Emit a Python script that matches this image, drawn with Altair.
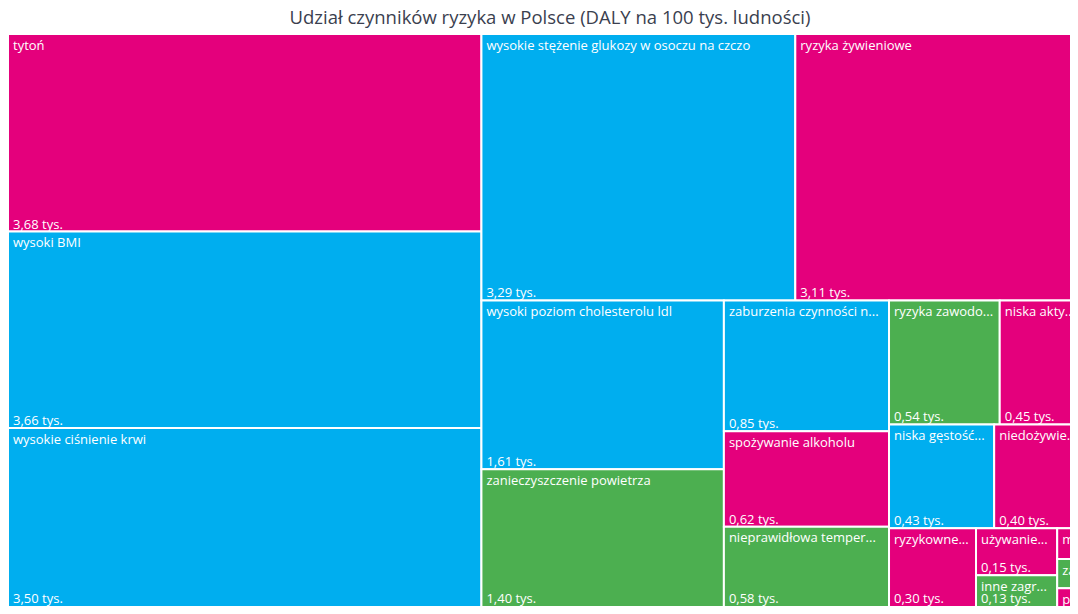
import altair as alt
import pandas as pd

# ---- data (DALY per 100k, thousands) ----
title_text = ["Udział czynników ryzyka w Polsce (DALY na 100 tys. ludności)"]
labels = [
    "tytoń", "wysoki BMI", "wysokie ciśnienie krwi",
    "wysokie stężenie glukozy w osoczu na czczo", "ryzyka żywieniowe",
    "wysoki poziom cholesterolu ldl", "zanieczyszczenie powietrza",
    "zaburzenia czynności n...", "spożywanie alkoholu", "nieprawidłowa temper...",
    "ryzyka zawodo...", "niska akty...",
    "niska gęstość...", "niedożywie...",
    "ryzykowne...",
    "używanie...", "inne zagr...",
    "m...", "za...", "pr...",
]
values = [
    3.68, 3.66, 3.50,
    3.29, 3.11,
    1.61, 1.40,
    0.85, 0.62, 0.58,
    0.54, 0.45,
    0.43, 0.40,
    0.30,
    0.15, 0.13,
    0.042, 0.040, 0.038,
]
groups = [
    "behawioralne", "metaboliczne", "metaboliczne",
    "metaboliczne", "behawioralne",
    "metaboliczne", "środowiskowe",
    "metaboliczne", "behawioralne", "środowiskowe",
    "środowiskowe", "behawioralne",
    "metaboliczne", "behawioralne",
    "behawioralne",
    "behawioralne", "środowiskowe",
    "behawioralne", "środowiskowe", "behawioralne",
]
group_names = ["behawioralne", "metaboliczne", "środowiskowe"]
group_colors = ["#E4007C", "#00AEEF", "#4CAF50"]

# treemap row plan (number of tiles per strip, strip orientation)
row_plan = [(3, "col"), (2, "row"), (2, "col"), (3, "col"), (2, "row"),
            (2, "row"), (1, "col"), (2, "col"), (3, "col")]

# full treemap size (it runs past the window in the reference) and visible part
W, H = 1084, 582
VW, VH = 1062, 572

# ---- compute the treemap layout from the values ----
total = sum(values)
k = W * H / total
x0, y0, x1, y1 = 0.0, 0.0, float(W), float(H)
rects = []
i = 0
for n, orient in row_plan:
    vals = values[i:i + n]
    s = sum(vals)
    if orient == "col":
        t = s * k / (y1 - y0)
        yy = y0
        for v in vals:
            h = v / s * (y1 - y0)
            rects.append((x0, x0 + t, yy, yy + h))
            yy += h
        x0 += t
    else:
        t = s * k / (x1 - x0)
        xx = x0
        for v in vals:
            w = v / s * (x1 - x0)
            rects.append((xx, xx + w, y0, y0 + t))
            xx += w
        y0 += t
    i += n

df = pd.DataFrame({
    "label": labels,
    "value": values,
    "group": groups,
    "x0": [r[0] for r in rects],
    "x1": [r[1] for r in rects],
    "y0": [r[2] for r in rects],
    "y1": [r[3] for r in rects],
})
df["ybot"] = [min(r[3], VH) for r in rects]
df["vtext"] = [
    (f"{v:.2f}".replace(".", ",") + " tys.") if (r[3] - r[2]) > 40 else ""
    for v, r in zip(values, rects)
]
tdf = pd.DataFrame({"t": title_text, "x": [W / 2]})

xs = alt.Scale(domain=[0, VW], nice=False, zero=False)
ys = alt.Scale(domain=[0, VH], nice=False, zero=False, reverse=True)

base = alt.Chart(df)

tiles = base.mark_rect(stroke="white", strokeWidth=2, clip=True).encode(
    x=alt.X("x0:Q", scale=xs, axis=None),
    x2="x1:Q",
    y=alt.Y("y0:Q", scale=ys, axis=None),
    y2="y1:Q",
    color=alt.Color("group:N", scale=alt.Scale(domain=group_names, range=group_colors), legend=None),
    tooltip=["label:N", "value:Q"],
)

names = base.mark_text(
    align="left", baseline="alphabetic", dx=5, dy=15.5, clip=True,
    font="Open Sans", fontSize=13, color="white",
).encode(
    x=alt.X("x0:Q", scale=xs, axis=None),
    y=alt.Y("y0:Q", scale=ys, axis=None),
    text="label:N",
)

vals_txt = base.mark_text(
    align="left", baseline="alphabetic", dx=5, dy=-3,
    font="Open Sans", fontSize=13, color="white",
).encode(
    x=alt.X("x0:Q", scale=xs, axis=None),
    y=alt.Y("ybot:Q", scale=ys, axis=None),
    text="vtext:N",
)

title = alt.Chart(tdf).mark_text(
    align="center", baseline="alphabetic",
    font="Open Sans", fontSize=18.5, color="#3b3f4f",
).encode(
    x=alt.X("x:Q", scale=xs, axis=None),
    y=alt.value(-10),
    text="t:N",
)

chart = alt.layer(tiles, names, vals_txt, title).properties(
    width=VW,
    height=VH,
    autosize=alt.AutoSizeParams(type="none"),
    padding={"left": 0, "top": 26, "right": 0, "bottom": 0},
).configure_view(stroke=None)

chart.save("out.html", embed_options={"renderer": "svg", "actions": False})
